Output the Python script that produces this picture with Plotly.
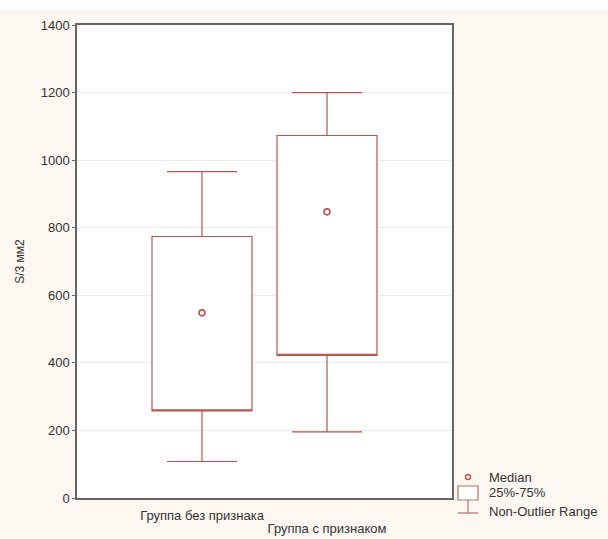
import plotly.graph_objects as go

# ---- data ----
categories = ["Группа без признака", "Группа с признаком"]
q1_vals = [258, 422]
median_vals = [548, 847]
q3_vals = [774, 1073]
low_vals = [108, 196]
high_vals = [966, 1200]
y_ticks = [0, 200, 400, 600, 800, 1000, 1200, 1400]
legend_labels = ["Median", "25%-75%", "Non-Outlier Range"]

W, H = 608, 539
L, R, T, B = 77, 452, 25, 498
BOX_COLOR = "#b8564e"
MED_COLOR = "#c0504d"
FONT = "Liberation Sans, Arial, sans-serif"
TXT = "#333333"

def px(x):
    return (x - L) / (R - L)

def py(y):
    return (B - y) / (B - T)

fig = go.Figure()
positions = list(range(len(categories)))
for i in positions:
    # median line is hidden on the box edge; the median is drawn as a circle marker below
    fig.add_trace(go.Box(
        x=[positions[i]], q1=[q1_vals[i]], median=[q1_vals[i]], q3=[q3_vals[i]],
        lowerfence=[low_vals[i]], upperfence=[high_vals[i]],
        width=0.8, whiskerwidth=0.7, fillcolor="white", boxpoints=False,
        line=dict(color=BOX_COLOR, width=1.2), showlegend=False, hoverinfo="skip"))

# medians as small open circles, on the overlaid copy of the x axis
fig.add_trace(go.Scatter(
    x=positions, y=median_vals, mode="markers", xaxis="x2", yaxis="y",
    marker=dict(symbol="circle-open", size=6, color=MED_COLOR, line=dict(width=1.6, color=MED_COLOR)),
    showlegend=False))

shapes = []
annotations = []
# white strip at the very top of the picture
shapes.append(dict(type="rect", xref="paper", yref="paper", x0=px(0), x1=px(W), y0=py(10), y1=py(-2),
                   fillcolor="white", line=dict(width=0), layer="above"))

# manual legend
lc = "#b07068"
shapes.append(dict(type="circle", xref="paper", yref="paper", x0=px(465.5), x1=px(470.5), y0=py(479.5), y1=py(474.5),
                   line=dict(color=MED_COLOR, width=1.4), fillcolor="rgba(0,0,0,0)"))
shapes.append(dict(type="rect", xref="paper", yref="paper", x0=px(458), x1=px(478), y0=py(500), y1=py(486),
                   line=dict(color=lc, width=1.2), fillcolor="white"))
shapes.append(dict(type="line", xref="paper", yref="paper", x0=px(468), x1=px(468), y0=py(513), y1=py(500),
                   line=dict(color=lc, width=1.2)))
shapes.append(dict(type="line", xref="paper", yref="paper", x0=px(458), x1=px(478), y0=py(513), y1=py(513),
                   line=dict(color=lc, width=1.2)))
for lab, yy in zip(legend_labels, [477, 492, 512]):
    annotations.append(dict(text=lab, xref="paper", yref="paper", x=px(487), y=py(yy),
                            xanchor="left", yanchor="middle", showarrow=False,
                            font=dict(family=FONT, size=13, color=TXT)))

fig.update_layout(
    width=W, height=H,
    margin=dict(l=L, r=W - R, t=T, b=H - B, autoexpand=False),
    paper_bgcolor="#fcf8f1", plot_bgcolor="white",
    shapes=shapes, annotations=annotations,
    showlegend=False,
    font=dict(family=FONT, size=13, color=TXT),
)
fig.update_xaxes(
    range=[-1, 2], tickmode="array", tickvals=[positions[0]], ticktext=[categories[0]],
    showline=True, linecolor="#666666", linewidth=1.5, mirror=True, automargin=False,
    showgrid=False, zeroline=False, ticks="", ticklabelstandoff=5,
    tickfont=dict(size=13, family=FONT, color=TXT),
)
# second category label sits one staggered row lower, on an overlaid copy of the x axis
fig.update_layout(xaxis2=dict(
    overlaying="x", anchor="y", side="bottom", range=[-1, 2], automargin=False,
    tickmode="array", tickvals=[positions[1]], ticktext=[categories[1]],
    showline=False, showgrid=False, zeroline=False, ticks="", ticklabelstandoff=21,
    tickfont=dict(size=13, family=FONT, color=TXT),
))
fig.update_yaxes(
    range=[0, 1400], tickmode="array", tickvals=y_ticks, automargin=False,
    showline=True, linecolor="#666666", linewidth=1.5, mirror=True,
    showgrid=True, gridcolor="#ececec", gridwidth=1, zeroline=False,
    ticks="outside", ticklen=3, tickcolor="#666666",
    tickfont=dict(size=13, family=FONT, color=TXT),
    title=dict(text="S/3 мм2", font=dict(size=12, family=FONT, color=TXT), standoff=14),
)
fig.write_html("out.html", config={"displayModeBar": False},
               post_script="document.body.style.margin='0';")
